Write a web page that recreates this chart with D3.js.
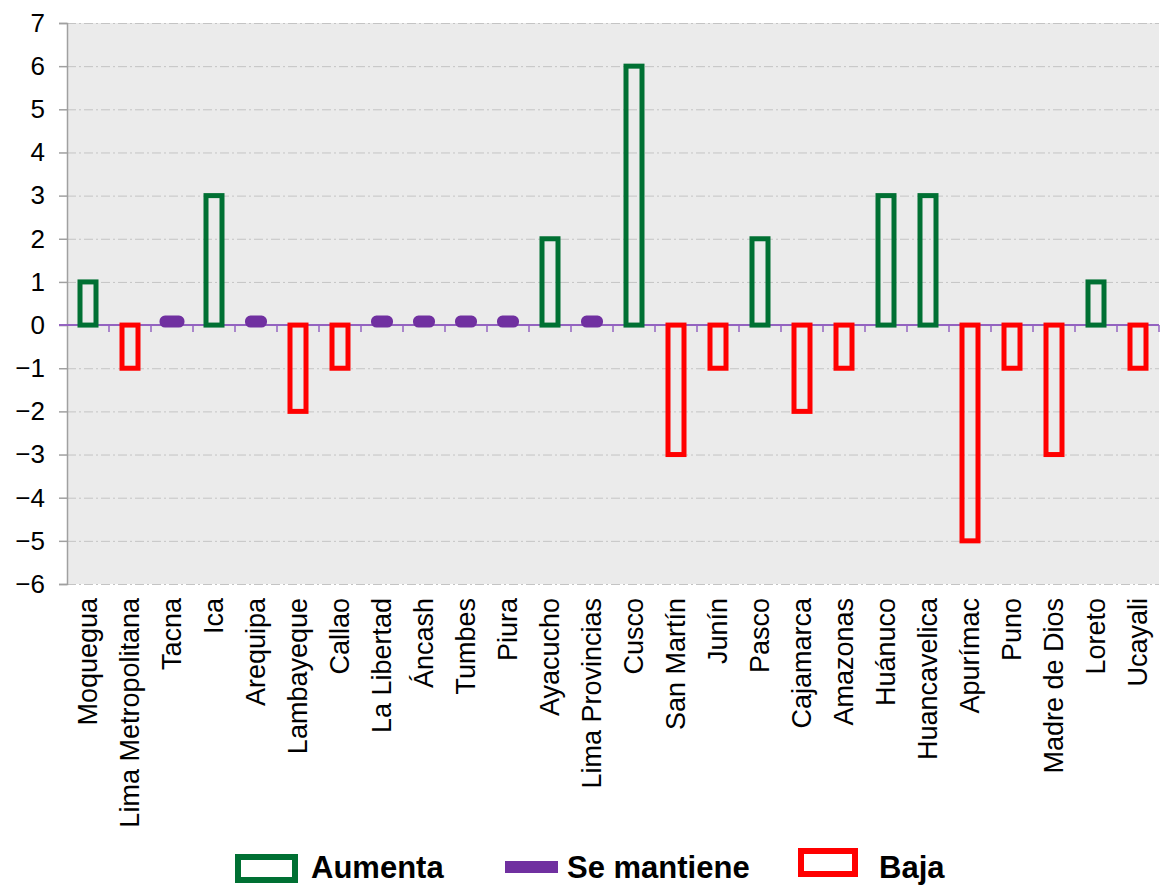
<!DOCTYPE html>
<html>
<head>
<meta charset="utf-8">
<script src="https://cdn.jsdelivr.net/npm/d3@7"></script>
<style>
  body { margin: 0; background: #fff; }
  svg { font-family: "Liberation Sans", Arial, sans-serif; }
</style>
</head>
<body>
<svg class="region-chart" width="1168" height="886"></svg>
<script>
var regions = ["Moquegua", "Lima Metropolitana", "Tacna", "Ica", "Arequipa", "Lambayeque",
  "Callao", "La Libertad", "Áncash", "Tumbes", "Piura", "Ayacucho", "Lima Provincias",
  "Cusco", "San Martín", "Junín", "Pasco", "Cajamarca", "Amazonas", "Huánuco",
  "Huancavelica", "Apurímac", "Puno", "Madre de Dios", "Loreto", "Ucayali"];
var change = [1, -1, 0, 3, 0, -2, -1, 0, 0, 0, 0, 2, 0, 6, -3, -1, 2, -2, -1, 3, 3, -5, -1, -3, 1, -1];
var yTicks = [7, 6, 5, 4, 3, 2, 1, 0, -1, -2, -3, -4, -5, -6];
var seriesNames = ["Aumenta", "Se mantiene", "Baja"];
var seriesColors = ["#007033", "#7030A0", "#FF0000"];

var margin = {top: 23, right: 9, bottom: 302, left: 67};
var width = 1168 - margin.left - margin.right;
var height = 886 - margin.top - margin.bottom;

var x = d3.scaleBand().domain(regions).range([0, width]);
var y = d3.scaleLinear().domain([-6, 7]).range([height, 0]);
var color = d3.scaleOrdinal().domain(seriesNames).range(seriesColors);

function status(v) {
  if (v > 0) return "Aumenta";
  if (v < 0) return "Baja";
  return "Se mantiene";
}

var data = regions.map(function(r, i) { return {region: r, value: change[i], status: status(change[i])}; });

var svg = d3.select(".region-chart");
var chart = svg.append("g")
  .attr("transform", "translate(" + margin.left + "," + margin.top + ")");

chart.append("rect")
  .attr("width", width)
  .attr("height", height)
  .attr("fill", "#EBEBEB");

// grid lines
chart.selectAll(".grid")
  .data(yTicks)
  .enter().append("line")
  .attr("class", "grid")
  .attr("x1", 0)
  .attr("x2", width)
  .attr("y1", function(d) { return y(d) + 0.5; })
  .attr("y2", function(d) { return y(d) + 0.5; })
  .attr("stroke", "#C4C4C4")
  .attr("stroke-width", 1)
  .attr("stroke-dasharray", "9,3,2,3");

// y axis
var yAxis = chart.append("g")
  .attr("class", "y axis")
  .call(d3.axisLeft(y).tickValues(yTicks).tickSize(8).tickPadding(14).tickFormat(d3.format("d")));
yAxis.select(".domain").attr("stroke", "#A0A0A0").attr("stroke-width", 1.5);
yAxis.selectAll(".tick line").attr("stroke", "#A0A0A0").attr("stroke-width", 1.5);
yAxis.selectAll(".tick text")
  .style("font-size", "26px")
  .style("font-family", "'Liberation Sans', Arial, sans-serif")
  .attr("fill", "#000");

// zero axis (drawn under the bars)
var xAxis = chart.append("g")
  .attr("class", "x axis")
  .attr("transform", "translate(0," + y(0) + ")");
xAxis.append("line")
  .attr("x1", -8)
  .attr("x2", width)
  .attr("stroke", "#9464C0")
  .attr("stroke-width", 2);
xAxis.selectAll(".tick")
  .data(regions.slice(1).concat(["end"]))
  .enter().append("line")
  .attr("class", "tick")
  .attr("x1", function(d, i) { return (i + 1) * x.bandwidth(); })
  .attr("x2", function(d, i) { return (i + 1) * x.bandwidth(); })
  .attr("y1", 0)
  .attr("y2", 7)
  .attr("stroke", "#9464C0")
  .attr("stroke-width", 1.5);

var barW = 16;

// bars
chart.selectAll(".bar")
  .data(data.filter(function(d) { return d.value !== 0; }))
  .enter().append("rect")
  .attr("class", "bar")
  .attr("x", function(d) { return x(d.region) + x.bandwidth() / 2 - barW / 2; })
  .attr("y", function(d) { return y(Math.max(d.value, 0)); })
  .attr("width", barW)
  .attr("height", function(d) { return Math.abs(y(d.value) - y(0)); })
  .attr("fill", "none")
  .attr("stroke", function(d) { return color(d.status); })
  .attr("stroke-width", 5);

// thin axis line across the bars
xAxis.append("line")
  .attr("x1", 0)
  .attr("x2", width)
  .attr("stroke", "#9464C0")
  .attr("stroke-width", 1)
  .attr("opacity", 0.6);

// "se mantiene" markers
var markH = 0.14;
chart.selectAll(".flat")
  .data(data.filter(function(d) { return d.value === 0; }))
  .enter().append("rect")
  .attr("class", "flat")
  .attr("x", function(d) { return x(d.region) + x.bandwidth() / 2 - (d.region === "Tacna" ? 10 : 8.5); })
  .attr("y", y(markH) - 1)
  .attr("width", function(d) { return d.region === "Tacna" ? 20 : 17; })
  .attr("height", y(0) - y(markH) + 1)
  .attr("rx", 3)
  .attr("fill", color("Se mantiene"))
  .attr("stroke", color("Se mantiene"))
  .attr("stroke-width", 5)
  .attr("stroke-linejoin", "round");

// category labels
chart.selectAll(".xlabel")
  .data(regions)
  .enter().append("text")
  .attr("class", "xlabel")
  .attr("transform", function(d) {
    return "translate(" + (x(d) + x.bandwidth() / 2) + "," + (height + 14) + ") rotate(-90)";
  })
  .attr("dy", "0.35em")
  .style("text-anchor", "end")
  .style("font-size", "27px")
  .text(function(d) { return d; });

// legend
var legend = svg.append("g").attr("class", "legend");
var legendItems = [
  {name: "Aumenta", box: [238, 857, 57, 23], tx: 311},
  {name: "Se mantiene", box: [505, 861, 53, 12], tx: 567},
  {name: "Baja", box: [801, 851, 54, 23], tx: 879}
];
legendItems.forEach(function(d) {
  var filled = d.name === "Se mantiene";
  legend.append("rect")
    .attr("x", d.box[0])
    .attr("y", d.box[1])
    .attr("width", d.box[2])
    .attr("height", d.box[3])
    .attr("fill", filled ? color(d.name) : "#fff")
    .attr("stroke", filled ? "none" : color(d.name))
    .attr("stroke-width", 6);
  legend.append("text")
    .attr("x", d.tx)
    .attr("y", 878)
    .style("font-size", "31px")
    .style("font-weight", "bold")
    .text(d.name);
});
</script>
</body>
</html>
